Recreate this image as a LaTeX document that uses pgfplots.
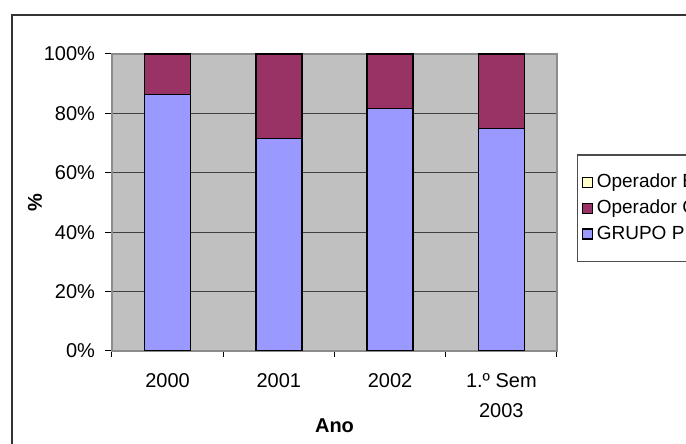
\documentclass[border=0pt]{standalone}
\usepackage{pgfplots}
\pgfplotsset{compat=1.18}
\usepackage{fontspec}
\setmainfont{Liberation Sans}
\definecolor{cblue}{HTML}{9999FF}
\definecolor{cmaroon}{HTML}{993366}
\definecolor{cyellow}{HTML}{FFFFCC}
\definecolor{cbg}{HTML}{C0C0C0}
\begin{document}
\fontsize{10pt}{15pt}\selectfont
\begin{tikzpicture}
\useasboundingbox (0,0) rectangle (343pt,222pt);
\clip (0,0) rectangle (343pt,222pt);
\fill[white] (0,0) rectangle (343pt,222pt);
\draw[line width=0.8pt, black!80] (6pt,-20pt) -- (6pt,214.5pt) -- (360pt,214.5pt);
\begin{axis}[
  at={(56pt,46.5pt)}, anchor=south west,
  scale only axis, width=222.5pt, height=148.5pt,
  ybar stacked, bar width=23pt,
  xmin=0.5, xmax=4.5, ymin=0, ymax=100,
  xtick={1,2,3,4},
  xticklabels={2000,2001,2002,{1.º Sem\\2003}},
  major x tick style={draw=none},
  minor xtick={0.5,1.5,2.5,3.5,4.5},
  minor x tick style={black, line width=0.5pt},
  minor tick length=3pt,
  xtick pos=left, ytick pos=left,
  ytick={0,20,40,60,80,100},
  yticklabel={\pgfmathprintnumber{\tick}\%},
  tick align=outside, major tick length=3.5pt,
  ytick style={black, line width=0.5pt},
  ymajorgrids, major grid style={black!75, line width=0.6pt},
  axis background/.style={fill=cbg},
  axis line style={black!45, line width=0.6pt},
  /pgf/number format/assume math mode=true,
  tick label style={font=\fontsize{10pt}{15pt}\selectfont},
  xticklabel style={align=center, anchor=north, yshift=-4pt},
  yticklabel style={xshift=-1.5pt},
  xlabel={\textbf{Ano}},
  ylabel={\textbf{\%}},
  label style={font=\fontsize{10pt}{12pt}\selectfont},
  xlabel style={at={(axis description cs:0.5,-0.252)}, anchor=center},
  ylabel style={at={(axis description cs:-0.173,0.5)}, anchor=center},
  legend style={at={(rel axis cs:1.045,0.662)}, anchor=north west,
    draw=black!70, line width=0.6pt, fill=white,
    font=\fontsize{9.5pt}{11pt}\selectfont, row sep=0.6pt, inner xsep=2pt, inner ysep=7.5pt,
    legend cell align=left},
  legend image code/.code={\draw[#1, line width=0.6pt] (0pt,-2.5pt) rectangle (5pt,2.5pt);},
  reverse legend,
]
\addplot[fill=cblue, draw=black, line width=0.75pt] coordinates {(1,86.3) (2,71.6) (3,81.6) (4,74.9)};
\addlegendentry{GRUPO P}
\addplot[fill=cmaroon, draw=black, line width=0.75pt] coordinates {(1,13.7) (2,28.4) (3,18.4) (4,25.1)};
\addlegendentry{Operador C}
\addlegendimage{fill=cyellow, draw=black}
\addlegendentry{Operador E}
\end{axis}
\end{tikzpicture}
\end{document}
